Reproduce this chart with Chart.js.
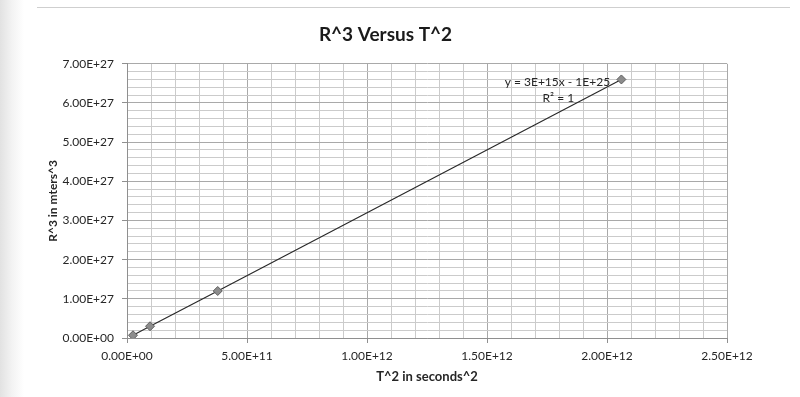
<!DOCTYPE html>
<html>
<head>
<meta charset="utf-8">
<script src="https://cdn.jsdelivr.net/npm/chart.js@4.4.1/dist/chart.umd.min.js"></script>
<style>
  html, body { margin: 0; padding: 0; }
  body {
    width: 800px; height: 397px; position: relative; overflow: hidden;
    background: linear-gradient(to right, #e2e2e2 0px, #f3f3f3 12px, #ffffff 24px);
  }
  #rule { position: absolute; left: 37px; right: 10px; top: 7px; border-top: 1px solid #cfcfcf; }
  #wrap { position: absolute; left: 0; top: 0; width: 800px; height: 397px; }
</style>
</head>
<body>
<div id="rule"></div>
<div id="wrap"><canvas id="orbitChart"></canvas></div>
<script>
// values
const periodSquared = [2.5e10, 9.6e10, 3.78e11, 2.06e12];   // T^2 in s^2
const radiusCubed = [7.0e25, 3.0e26, 1.2e27, 6.6e27];       // R^3 in m^3

const xTickLabels = ['0.00E+00', '5.00E+11', '1.00E+12', '1.50E+12', '2.00E+12', '2.50E+12'];
const yTickLabels = ['0.00E+00', '1.00E+27', '2.00E+27', '3.00E+27', '4.00E+27', '5.00E+27', '6.00E+27', '7.00E+27'];
const fitLabels = ['y = 3E+15x - 1E+25', 'R\u00B2 = 1'];

const FONT = 'Lato';
const minorGrid = '#cbcbcb';
const majorGrid = '#a9a9a9';
const axisColor = '#8f8f8f';
const textColor = '#262626';

// 5 minor divisions between each labelled tick
function minorTicks(labels, step) {
    return function(scale) {
        const ticks = [];
        for (let i = 0; i <= (labels.length - 1) * 5; i++) ticks.push({ value: i * step / 5 });
        scale.ticks = ticks;
    };
}

const fitLabelPlugin = {
    id: 'fitLabel',
    afterDatasetsDraw(chart) {
        const { ctx, scales: { x, y } } = chart;
        const last = periodSquared.length - 1;
        const px = x.getPixelForValue(periodSquared[last]);
        const py = y.getPixelForValue(radiusCubed[last]);
        ctx.save();
        ctx.font = '12px ' + FONT;
        ctx.fillStyle = textColor;
        ctx.textAlign = 'center';
        ctx.textBaseline = 'middle';
        ctx.fillText(fitLabels[0], px - 64, py + 3);
        ctx.fillText(fitLabels[1], px - 63, py + 19);
        ctx.restore();
    }
};

const ctx = document.getElementById('orbitChart').getContext('2d');

new Chart(ctx, {
    type: 'scatter',
    data: {
        datasets: [{
            label: 'R^3',
            data: periodSquared.map((t, i) => ({ x: t, y: radiusCubed[i] })),
            showLine: true,
            borderColor: '#2a2a2a',
            borderWidth: 1.2,
            pointStyle: 'rectRot',
            pointRadius: 4.5,
            pointBackgroundColor: '#8c8c8c',
            pointBorderColor: '#5f5f5f',
            pointBorderWidth: 1
        }]
    },
    options: {
        responsive: true,
        maintainAspectRatio: false,
        animation: false,
        layout: { padding: { top: 23, left: 44, right: 73, bottom: 9 } },
        plugins: {
            legend: { display: false },
            tooltip: { enabled: false },
            title: {
                display: true,
                text: 'R^3 Versus T^2',
                color: '#1a1a1a',
                font: { family: FONT, size: 19, weight: 'bold' },
                padding: { top: 0, bottom: 18 }
            }
        },
        scales: {
            x: {
                type: 'linear',
                min: 0,
                max: 2.5e12,
                afterBuildTicks: minorTicks(xTickLabels, 5e11),
                afterFit: function(scale) { scale.height = 50; },
                border: { color: axisColor },
                grid: {
                    color: c => (c.index % 5 === 0 ? majorGrid : minorGrid),
                    tickColor: c => (c.index % 5 === 0 ? axisColor : 'rgba(0,0,0,0)'),
                    tickLength: 5
                },
                ticks: {
                    autoSkip: false,
                    maxRotation: 0,
                    padding: 6,
                    color: textColor,
                    font: { family: FONT, size: 12 },
                    callback: (value, index) => (index % 5 === 0 ? xTickLabels[index / 5] : '')
                },
                title: {
                    display: true,
                    text: 'T^2 in seconds^2',
                    color: textColor,
                    font: { family: FONT, size: 13, weight: 'bold' },
                    padding: { top: 0, bottom: 3 }
                }
            },
            y: {
                type: 'linear',
                min: 0,
                max: 7e27,
                afterBuildTicks: minorTicks(yTickLabels, 1e27),
                afterFit: function(scale) { scale.width = 83; },
                border: { color: axisColor },
                grid: {
                    color: c => (c.index % 5 === 0 ? majorGrid : minorGrid),
                    tickColor: c => (c.index % 5 === 0 ? axisColor : 'rgba(0,0,0,0)'),
                    tickLength: 5
                },
                ticks: {
                    autoSkip: false,
                    padding: 8,
                    color: textColor,
                    font: { family: FONT, size: 12 },
                    callback: (value, index) => (index % 5 === 0 ? yTickLabels[index / 5] : '')
                },
                title: {
                    display: true,
                    text: 'R^3 in mters^3',
                    color: textColor,
                    font: { family: FONT, size: 12, weight: 'bold' },
                    padding: { top: 2, bottom: 0 }
                }
            }
        }
    },
    plugins: [fitLabelPlugin]
});
</script>
</body>
</html>
